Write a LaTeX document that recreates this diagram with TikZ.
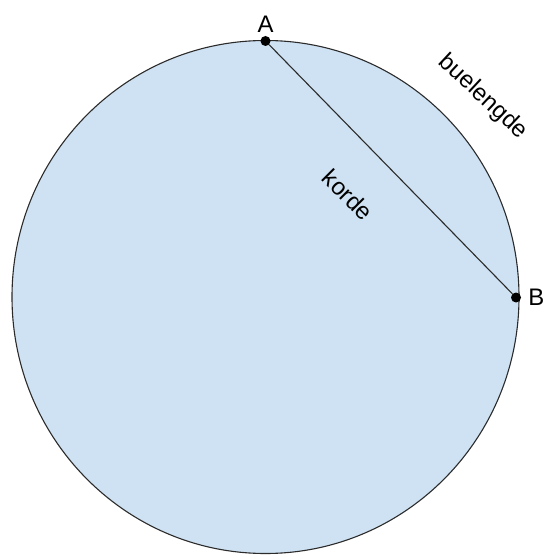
\documentclass[tikz,border=0pt]{standalone}
\usepackage{fontspec}
\setmainfont{Liberation Sans}
\usepackage{xcolor}
\usetikzlibrary{positioning}
\definecolor{discfill}{HTML}{CFE2F3}
\definecolor{discline}{HTML}{2B2B2B}

\begin{document}
\begin{tikzpicture}[x=1bp,y=-1bp,
  dot/.style={circle,fill=black,inner sep=0pt,minimum size=10bp},
  lbl/.style={font=\fontsize{24}{28}\selectfont,inner sep=1bp}]
  \useasboundingbox (0,0) rectangle (548,556);
  \coordinate (O) at (265.5,297);
  \draw[discline,line width=1.1bp,fill=discfill] (O) ellipse [x radius=253.5,y radius=-256.5];
  \node[dot] (A) at (265.5,41) {};
  \node[dot] (B) at (516,297.5) {};
  \draw[discline,line width=1.1bp] (A) -- (B);
  \node[lbl,above=2bp of A] (labA) {A};
  \node[lbl,right=6bp of B] (labB) {B};
  \node[lbl,rotate=-43] (arc) at (483,97) {buelengde};
  \node[lbl,rotate=-45] (chord) at (348,195) {korde};
\end{tikzpicture}
\end{document}
